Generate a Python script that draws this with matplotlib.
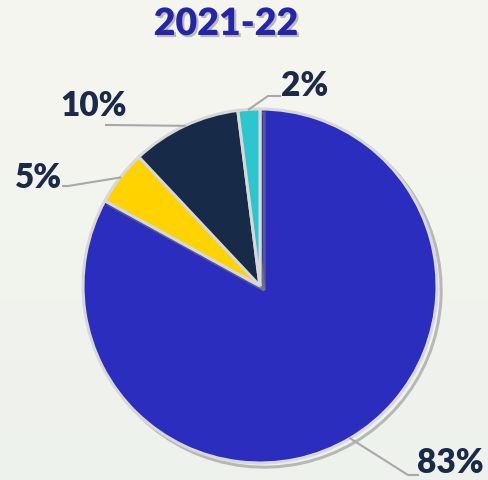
import numpy as np
import matplotlib
matplotlib.use("Agg")
import matplotlib.pyplot as plt
import matplotlib.patheffects as pe
from matplotlib.colors import LinearSegmentedColormap

title = "2021-22"
labels = ["83%", "5%", "10%", "2%"]
values = [83, 5, 10, 2]
colors = ["#2a2dbd", "#ffd200", "#172a48", "#2cc6cf"]

W, H = 489, 481
fig = plt.figure(figsize=(W / 100, H / 100), dpi=100)
ax = fig.add_axes([0, 0, 1, 1])

cx, cy, r = 260, H - 287, 177

wedges, _ = ax.pie(values, colors=colors, startangle=90, counterclock=False,
                   center=(cx, cy), radius=r, frame=True,
                   wedgeprops=dict(edgecolor="#d8d8d8", linewidth=2.2))
for w in wedges:
    w.set_zorder(3)
    w.set_path_effects([pe.SimpleLineShadow(offset=(3, -3), shadow_color="#808080", alpha=0.5),
                        pe.Normal()])
ax.set_xlim(0, W)
ax.set_ylim(0, H)
ax.set_aspect("equal")
ax.axis("off")

# background gradient
grad = np.linspace(0, 1, 256).reshape(-1, 1)
cmap = LinearSegmentedColormap.from_list("bg", ["#f6f6f0", "#eef2ec"])
ax.imshow(grad, extent=[0, W, 0, H], cmap=cmap, aspect="auto", zorder=0)
ax.set_xlim(0, W)
ax.set_ylim(0, H)

label_col = "#1b2a48"
label_pos = [(450, 463), (39, 178), (94, 106), (305, 86)]
elbows = [(408, 476, 418), (68, 187, 63), (110, 126, 106), (268, 97, 280)]

start = 90.0
for i, v in enumerate(values):
    ang = start - 360 * v / 100 / 2
    start -= 360 * v / 100
    a = np.deg2rad(ang)
    px, py = cx + r * np.cos(a), cy + r * np.sin(a)
    ex, ey, hx = elbows[i]
    ax.plot([px, ex, hx], [py, H - ey, H - ey], color="#a8a8a8", lw=1.5, zorder=4)
    lx, ly = label_pos[i]
    ax.text(lx, H - ly, labels[i], ha="center", va="center", fontsize=24,
            fontweight="heavy", family="Lato", color=label_col, zorder=5)

ax.text(226, H - 25, title, ha="center", va="center", fontsize=27,
        fontweight="heavy", family="Lato", color="#2525a8", zorder=5,
        path_effects=[pe.withSimplePatchShadow(offset=(1.5, -1.5), shadow_rgbFace="#707070", alpha=0.45)])

fig.savefig("out.png", dpi=100, facecolor="#f4f5ef")
